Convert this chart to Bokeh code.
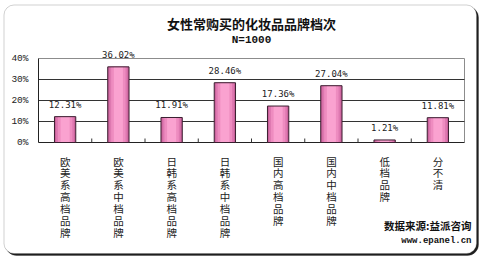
from bokeh.plotting import figure
from bokeh.models import ColumnDataSource, Range1d, BoxAnnotation
from bokeh.core.properties import value
from bokeh.embed import file_html
from bokeh.resources import INLINE

categories = ["欧美系高档品牌", "欧美系中档品牌", "日韩系高档品牌", "日韩系中档品牌",
              "国内高档品牌", "国内中档品牌", "低档品牌", "分不清"]
values = [12.31, 36.02, 11.91, 28.46, 17.36, 27.04, 1.21, 11.81]
y_ticks = [0, 10, 20, 30, 40]
y_tick_labels = ["0%", "10%", "20%", "30%", "40%"]
title_text = "女性常购买的化妆品品牌档次"
subtitle_text = "N=1000"
source_text = "数据来源:益派咨询"
url_text = "www.epanel.cn"

n = len(categories)
y_max = y_ticks[-1]

# plot-area geometry in pixels (canvas 480x258)
W, H = 480, 258
L, R, T, B = 38, 464, 58, 142
px_x = (R - L) / n
px_y = (B - T) / y_max

xs = [i + 0.5 for i in range(n)]
src = ColumnDataSource(dict(
    x=xs, top=values,
    lab=[f"{v:.2f}%" for v in values],
    cat=["\n".join(c) for c in categories],
    zero=[0] * n,
))

p = figure(width=W, height=H, output_backend="svg", toolbar_location=None,
           x_range=Range1d(-L / px_x, n + (W - R) / px_x),
           y_range=Range1d(-(H - B) / px_y, y_max + T / px_y),
           min_border=0, background_fill_color="white", border_fill_color="white",
           outline_line_color=None)
p.axis.visible = False
p.grid.visible = False

# rounded chart border with shadow
shadow = BoxAnnotation(left=5, right=478, top=6, bottom=255,
                       left_units="canvas", right_units="canvas", top_units="canvas", bottom_units="canvas",
                       fill_color="#1e1e1e", fill_alpha=1, line_color="#1e1e1e", line_width=1,
                       border_radius=11, level="image", editable=False)
panel = BoxAnnotation(left=3.5, right=476, top=4.5, bottom=253,
                      left_units="canvas", right_units="canvas", top_units="canvas", bottom_units="canvas",
                      fill_color="white", fill_alpha=1, line_color="#666666", line_width=1,
                      border_radius=10, level="image", editable=False)
p.add_layout(shadow)
p.add_layout(panel)

# plot frame: gray top/right, dark grid lines, dark axis lines
p.segment(x0=[0, n], y0=[y_max, 0], x1=[n, n], y1=[y_max, y_max], line_color="#8c8c8c", line_width=1)
grid_vals = y_ticks[1:-1]
p.segment(x0=[0] * len(grid_vals), y0=grid_vals, x1=[n] * len(grid_vals), y1=grid_vals,
          line_color="#333333", line_width=1)
p.segment(x0=[0, 0], y0=[0, 0], x1=[n, 0], y1=[0, y_max], line_color="#222222", line_width=1)

# inward category-boundary ticks
bounds = list(range(1, n))
p.segment(x0=bounds, y0=[0] * len(bounds), x1=bounds, y1=[4 / px_y] * len(bounds),
          line_color="#333333", line_width=1)

# y tick labels
p.text(x=[0] * len(y_ticks), y=y_ticks, text=y_tick_labels, x_offset=-10,
       text_align="right", text_baseline="middle", text_font=value("Liberation Mono"),
       text_font_size="9.5px", text_color="#222222")

# bars with pseudo gradient
for w, c in [(0.40, "#C9609A"), (0.34, "#DE78B0"), (0.27, "#EE8CC0"), (0.17, "#FAA2D0")]:
    p.vbar(x="x", top="top", bottom=0, width=w, source=src, fill_color=c, line_color=None)
p.vbar(x="x", top="top", bottom=0, width=0.40, source=src, fill_color=None,
       line_color="#3a1f30", line_width=1)

# value labels
p.text(x="x", y="top", text="lab", source=src, text_align="center", text_baseline="middle",
       y_offset=-12, text_font=value("DejaVu Sans Mono"), text_font_size="9px",
       text_color="#222222")

# vertical category labels
p.text(x="x", y="zero", text="cat", source=src, text_align="center", text_baseline="top",
       y_offset=11, text_font=value("Noto Sans CJK SC"), text_font_size="10.5px",
       text_line_height=0.79, text_color="#222222")

# titles
p.text(x=[n / 2], y=[y_max], text=[title_text], text_align="center", text_baseline="middle",
       y_offset=-35, text_font=value("Noto Sans CJK SC"), text_font_style="bold",
       text_font_size="13px", text_color="#111111")
p.text(x=[n / 2], y=[y_max], text=[subtitle_text], text_align="center", text_baseline="middle",
       y_offset=-19, text_font=value("Liberation Mono"), text_font_style="bold",
       text_font_size="11px", text_color="#111111")

# source
p.text(x=[n], y=[0], text=[source_text], text_align="right", text_baseline="middle",
       x_offset=7, y_offset=83, text_font=value("Noto Sans CJK SC"), text_font_style="bold",
       text_font_size="10.5px", text_color="#111111")
p.text(x=[n], y=[0], text=[url_text], text_align="right", text_baseline="middle",
       x_offset=7, y_offset=98, text_font=value("Liberation Mono"), text_font_style="bold",
       text_font_size="9px", text_color="#111111")

open("out.html", "w").write(file_html(p, INLINE))
